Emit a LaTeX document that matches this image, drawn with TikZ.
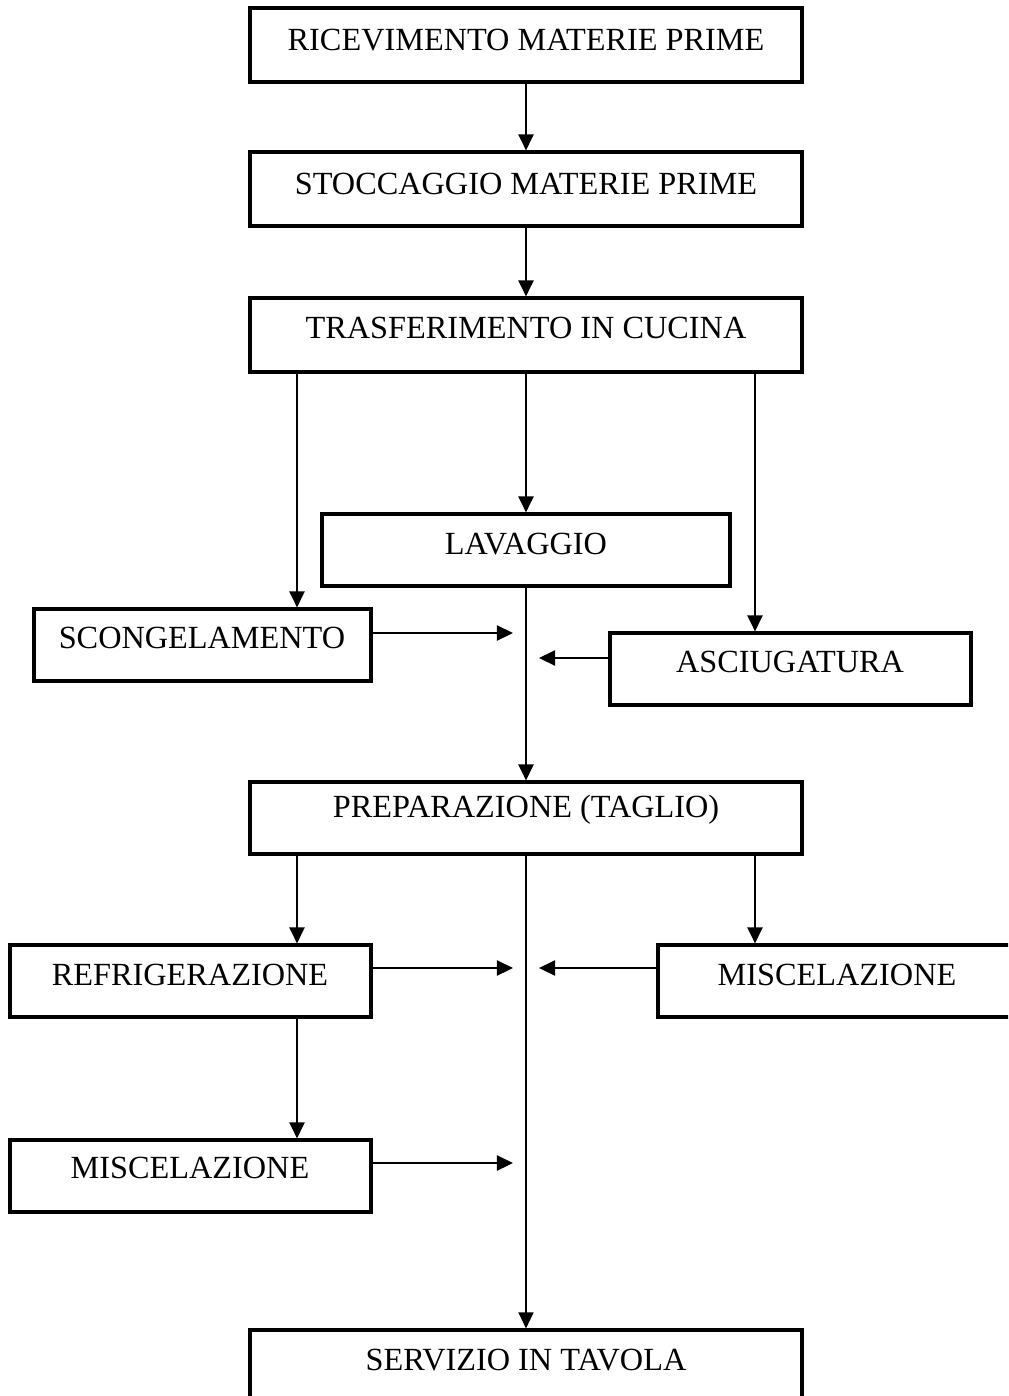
\documentclass[tikz,border=0pt]{standalone}
\usepackage{fontspec}
\setmainfont{Liberation Serif}
\usetikzlibrary{arrows.meta,fit}
\begin{document}
\begin{tikzpicture}[x=0.3871pt,y=-0.3871pt,
  box/.style={draw,line width=1.2pt,inner sep=0pt,fit={#1}},
  lab/.style={inner sep=0pt,font=\fontsize{12.5}{14}\selectfont},
  arr/.style={line width=0.9pt,-{Triangle[length=6.2pt,width=5.8pt]}},
  thin/.style={line width=0.55pt}]
\clip (0,0) rectangle (1008,1396);
% boxes
\node[box={(250,8) (802,82)}] (b1) {};
\node[box={(250,152) (802,226)}] (b2) {};
\node[box={(250,298) (802,372)}] (b3) {};
\node[box={(322,514) (730,586)}] (lav) {};
\node[box={(34,609) (371,681)}] (scong) {};
\node[box={(610,633) (971,705)}] (asciu) {};
\node[box={(250,782) (802,854)}] (prep) {};
\node[box={(10,945) (371,1017)}] (refr) {};
\node[box={(658,945) (1030,1017)}] (misr) {};
\node[box={(10,1140) (371,1212)}] (misl) {};
\node[box={(250,1330) (802,1420)}] (serv) {};
% labels
\node[lab] (t1) at (526,40) {RICEVIMENTO MATERIE PRIME};
\node[lab] (t2) at (526,184) {STOCCAGGIO MATERIE PRIME};
\node[lab] (t3) at (526,328) {TRASFERIMENTO IN CUCINA};
\node[lab] (t4) at (526,544) {LAVAGGIO};
\node[lab] (t5) at (202,638) {SCONGELAMENTO};
\node[lab] (t6) at (790,662) {ASCIUGATURA};
\node[lab] (t7) at (526,810) {PREPARAZIONE (TAGLIO)};
\node[lab] (t8) at (190,975) {REFRIGERAZIONE};
\node[lab] (t9) at (837,975) {MISCELAZIONE};
\node[lab] (t10) at (190,1168) {MISCELAZIONE};
\node[lab] (t11) at (526,1360) {SERVIZIO IN TAVOLA};
% helper coordinates
\coordinate (xl) at (297,0);
\coordinate (xm) at (526,0);
\coordinate (xr) at (755,0);
\coordinate (p1) at (513,633);
\coordinate (p2) at (539,658);
\coordinate (p3) at (513,968);
\coordinate (p4) at (539,968);
\coordinate (p5) at (513,1163);
% connectors
\draw[arr] (b1.south) -- (b2.north);
\draw[arr] (b2.south) -- (b3.north);
\draw[arr] (b3.south -| xl) -- (scong.north -| xl);
\draw[arr] (b3.south -| xm) -- (lav.north -| xm);
\draw[arr] (b3.south -| xr) -- (asciu.north -| xr);
\draw[arr] (lav.south -| xm) -- (prep.north -| xm);
\draw[arr] (scong.east |- p1) -- (p1);
\draw[arr] (asciu.west |- p2) -- (p2);
\draw[arr] (prep.south -| xl) -- (refr.north -| xl);
\draw[arr] (prep.south -| xr) -- (misr.north -| xr);
\draw[arr] (refr.east |- p3) -- (p3);
\draw[arr] (misr.west |- p4) -- (p4);
\draw[arr] (refr.south -| xl) -- (misl.north -| xl);
\draw[arr] (misl.east |- p5) -- (p5);
\draw[thin,-{Triangle[length=6.2pt,width=5.8pt]}] (prep.south -| xm) -- (serv.north -| xm);
\end{tikzpicture}
\end{document}
